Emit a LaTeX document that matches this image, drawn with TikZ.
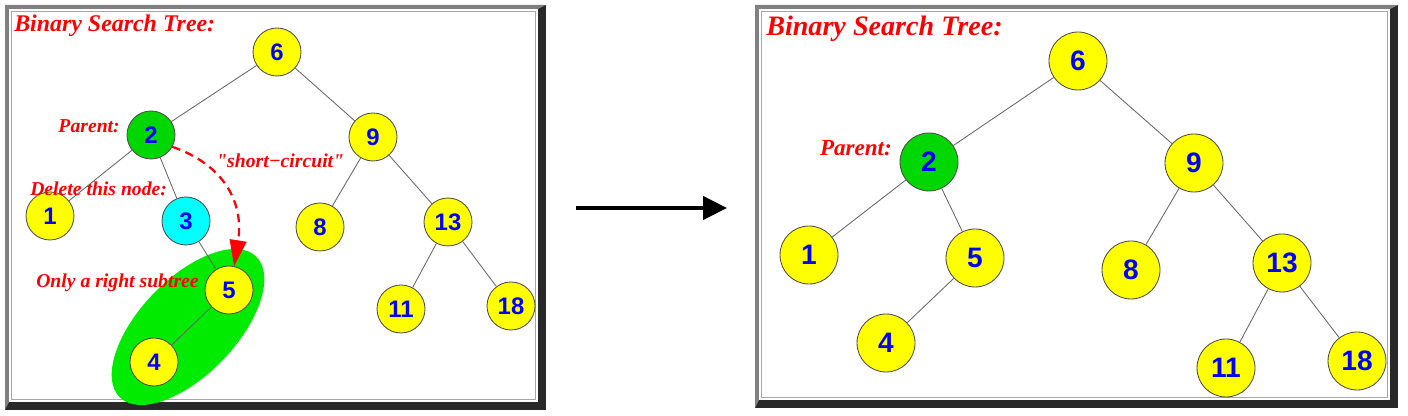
\documentclass[tikz,border=0pt]{standalone}
\usepackage{fontspec}
\setmainfont{Liberation Serif}
\newfontfamily\numfont{Liberation Sans}
\usetikzlibrary{arrows.meta,positioning}

\definecolor{keyyellow}{RGB}{255,255,0}
\definecolor{parentgreen}{RGB}{0,215,0}
\definecolor{hullgreen}{RGB}{0,235,0}
\definecolor{victimcyan}{RGB}{0,255,255}
\definecolor{rimgray}{RGB}{128,128,128}
\definecolor{rimdark}{RGB}{40,40,40}

\begin{document}
\begin{tikzpicture}[
    key/.style={circle, draw=black!70, line width=0.6pt, fill=keyyellow, minimum size=1.2cm, inner sep=0pt, text=blue, font=\numfont\bfseries\fontsize{17}{17}\selectfont},
    bigkey/.style={key, minimum size=1.45cm, font=\numfont\bfseries\fontsize{20}{20}\selectfont},
    parent/.style={fill=parentgreen},
    victim/.style={fill=victimcyan},
    link/.style={draw=black!60, line width=0.6pt},
    note/.style={text=red, inner sep=0pt, font=\bfseries\itshape\fontsize{14}{14}\selectfont},
    shortcut/.style={red, line width=1.6pt, dash pattern=on 6pt off 4pt, -{Triangle[length=0.65cm, width=0.42cm]}},
    bigarr/.style={line width=2.8pt, -{Triangle[length=0.6cm, width=0.58cm]}}
]
\useasboundingbox (0,0) rectangle (35.2,10.4);

% the two bevelled frames
\foreach \xa/\xb/\ya in {0.125/13.65/0.15, 18.875/34.95/0.2} {
  \fill[rimdark] (\xa,\ya) rectangle (\xb,10.275);
  \fill[rimgray] (\xa,\ya) -- (\xa,10.275) -- (\xb,10.275) -- (\xb-0.2,10.175) -- (\xa+0.1,10.175) -- (\xa+0.1,\ya+0.2) -- cycle;
  \fill[white] (\xa+0.1,\ya+0.2) rectangle (\xb-0.2,10.175);
  \draw[rimgray!70, line width=0.6pt] (\xa+0.16,\ya+0.26) rectangle (\xb-0.26,10.115);
}

% left: before the deletion
\fill[hullgreen, rotate around={46:(4.7,2.225)}] (4.7,2.225) ellipse (2.45cm and 1.2cm);

\node[key] (l6) at (6.925,9.1) {6};
\node[key, parent] (l2) at (3.775,7.025) {2};
\node[key] (l9) at (9.325,6.975) {9};
\node[key] (l1) at (1.25,5.0) {1};
\node[key, victim] (l3) at (4.65,4.875) {3};
\node[key] (l8) at (8.0,4.725) {8};
\node[key] (l13) at (11.2,4.85) {13};
\node[key] (l5) at (5.725,3.15) {5};
\node[key] (l11) at (10.025,2.675) {11};
\node[key] (l18) at (12.775,2.75) {18};
\node[key] (l4) at (3.85,1.35) {4};

\draw[link] (l6) -- (l2);
\draw[link] (l6) -- (l9);
\draw[link] (l2) -- (l1);
\draw[link] (l2) -- (l3);
\draw[link] (l3) -- (l5);
\draw[link] (l5) -- (l4);
\draw[link] (l9) -- (l8);
\draw[link] (l9) -- (l13);
\draw[link] (l13) -- (l11);
\draw[link] (l13) -- (l18);

\node[note, anchor=base west, font=\bfseries\itshape\fontsize{17}{17}\selectfont] (ttlA) at (0.35,9.6) {Binary Search Tree:};
\node[note, anchor=base east] (parA) at (3.0,7.09) {Parent:};
\node[note, anchor=base west] (del) at (0.75,5.51) {Delete this node:};
\node[note, anchor=base west] (sc) at (5.4,6.2) {\textquotedbl short−circuit\textquotedbl};
\node[note, anchor=base west] (sub) at (0.9,3.2) {Only a right subtree};

\draw[shortcut] (l2.-29) .. controls +(1.3,-0.45) and +(0.25,1.575) .. (l5.78);

% the step arrow
\coordinate (from) at (14.4,5.2);
\coordinate (to) at (18.175,5.2);
\draw[bigarr] (from) -- (to);

% right: after the deletion
\node[bigkey] (r6) at (26.95,8.875) {6};
\node[bigkey, parent] (r2) at (23.225,6.35) {2};
\node[bigkey] (r9) at (29.85,6.325) {9};
\node[bigkey] (r1) at (20.225,4.025) {1};
\node[bigkey] (r5) at (24.375,3.95) {5};
\node[bigkey] (r8) at (28.275,3.65) {8};
\node[bigkey] (r13) at (32.05,3.825) {13};
\node[bigkey] (r4) at (22.15,1.825) {4};
\node[bigkey] (r11) at (30.65,1.2) {11};
\node[bigkey] (r18) at (33.925,1.375) {18};

\draw[link] (r6) -- (r2);
\draw[link] (r6) -- (r9);
\draw[link] (r2) -- (r1);
\draw[link] (r2) -- (r5);
\draw[link] (r5) -- (r4);
\draw[link] (r9) -- (r8);
\draw[link] (r9) -- (r13);
\draw[link] (r13) -- (r11);
\draw[link] (r13) -- (r18);

\node[note, anchor=base west, font=\bfseries\itshape\fontsize{20}{20}\selectfont] (ttlB) at (19.15,9.5) {Binary Search Tree:};
\node[note, anchor=base east, font=\bfseries\itshape\fontsize{16.4}{16.4}\selectfont] (parB) at (22.3,6.51) {Parent:};
\end{tikzpicture}
\end{document}
